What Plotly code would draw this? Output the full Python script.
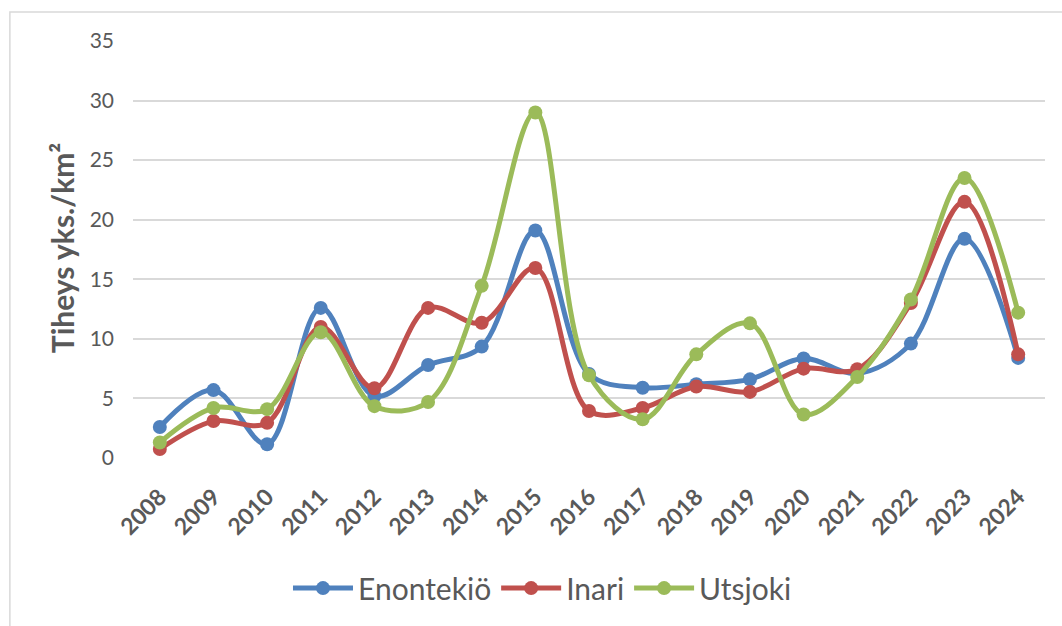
import plotly.graph_objects as go

years = ["2008", "2009", "2010", "2011", "2012", "2013", "2014", "2015", "2016",
         "2017", "2018", "2019", "2020", "2021", "2022", "2023", "2024"]
enontekio = [2.6, 5.7, 1.15, 12.6, 5.2, 7.8, 9.35, 19.1, 7.05, 5.9, 6.2, 6.6, 8.35, 7.1, 9.6, 18.4, 8.4]
inari = [0.75, 3.1, 2.95, 11.0, 5.85, 12.6, 11.35, 15.95, 3.95, 4.2, 6.0, 5.55, 7.5, 7.45, 13.0, 21.5, 8.7]
utsjoki = [1.3, 4.2, 4.1, 10.55, 4.35, 4.7, 14.45, 29.0, 6.95, 3.25, 8.7, 11.3, 3.65, 6.8, 13.3, 23.5, 12.2]

series = [("Enontekiö", enontekio, "#4F81BD"),
          ("Inari", inari, "#C0504D"),
          ("Utsjoki", utsjoki, "#9BBB59")]

FONT = "Lato, 'Open Sans', sans-serif"
GREY = "#595959"

fig = go.Figure()
for name, vals, col in series:
    fig.add_trace(go.Scatter(
        x=years, y=vals, name=name, mode="lines+markers",
        line=dict(color=col, width=5, shape="spline", smoothing=1.0),
        marker=dict(color=col, size=14),
    ))

fig.update_layout(
    width=1062, height=626,
    margin=dict(l=133, r=17, t=41, b=168),
    paper_bgcolor="white", plot_bgcolor="white",
    font=dict(family=FONT, color=GREY),
    showlegend=True,
    legend=dict(orientation="h", x=0.449, xanchor="center", y=-0.312, yanchor="middle",
                font=dict(size=30, color=GREY), tracegroupgap=0, itemwidth=60,
                bgcolor="rgba(0,0,0,0)"),
    xaxis=dict(type="category", range=[-0.5, 16.5], showgrid=False, zeroline=False, showline=False,
               tickangle=-45, tickfont=dict(size=23, color=GREY, family=FONT, weight="bold"),
               ticks="", ticklabelstandoff=20),
    yaxis=dict(range=[0, 35], dtick=5, showgrid=True, gridcolor="#D9D9D9", gridwidth=1.5,
               zeroline=False, showline=False, ticks="",
               tickfont=dict(size=21, color=GREY, family=FONT), ticklabelstandoff=18),
    annotations=[dict(text="Tiheys yks./km²", xref="paper", yref="paper",
                      x=-0.077, y=0.505, xanchor="center", yanchor="middle",
                      textangle=-90, showarrow=False,
                      font=dict(size=30, color=GREY, family=FONT, weight="bold"))],
    shapes=[dict(type="rect", xref="paper", yref="paper",
                 x0=-0.135, x1=2.0, y0=-2.0, y1=1.0695,
                 line=dict(color="#D9D9D9", width=1.5), layer="below")],
)

fig.write_html("out.html", config={"displayModeBar": False},
               post_script="document.body.style.margin='0px';")
